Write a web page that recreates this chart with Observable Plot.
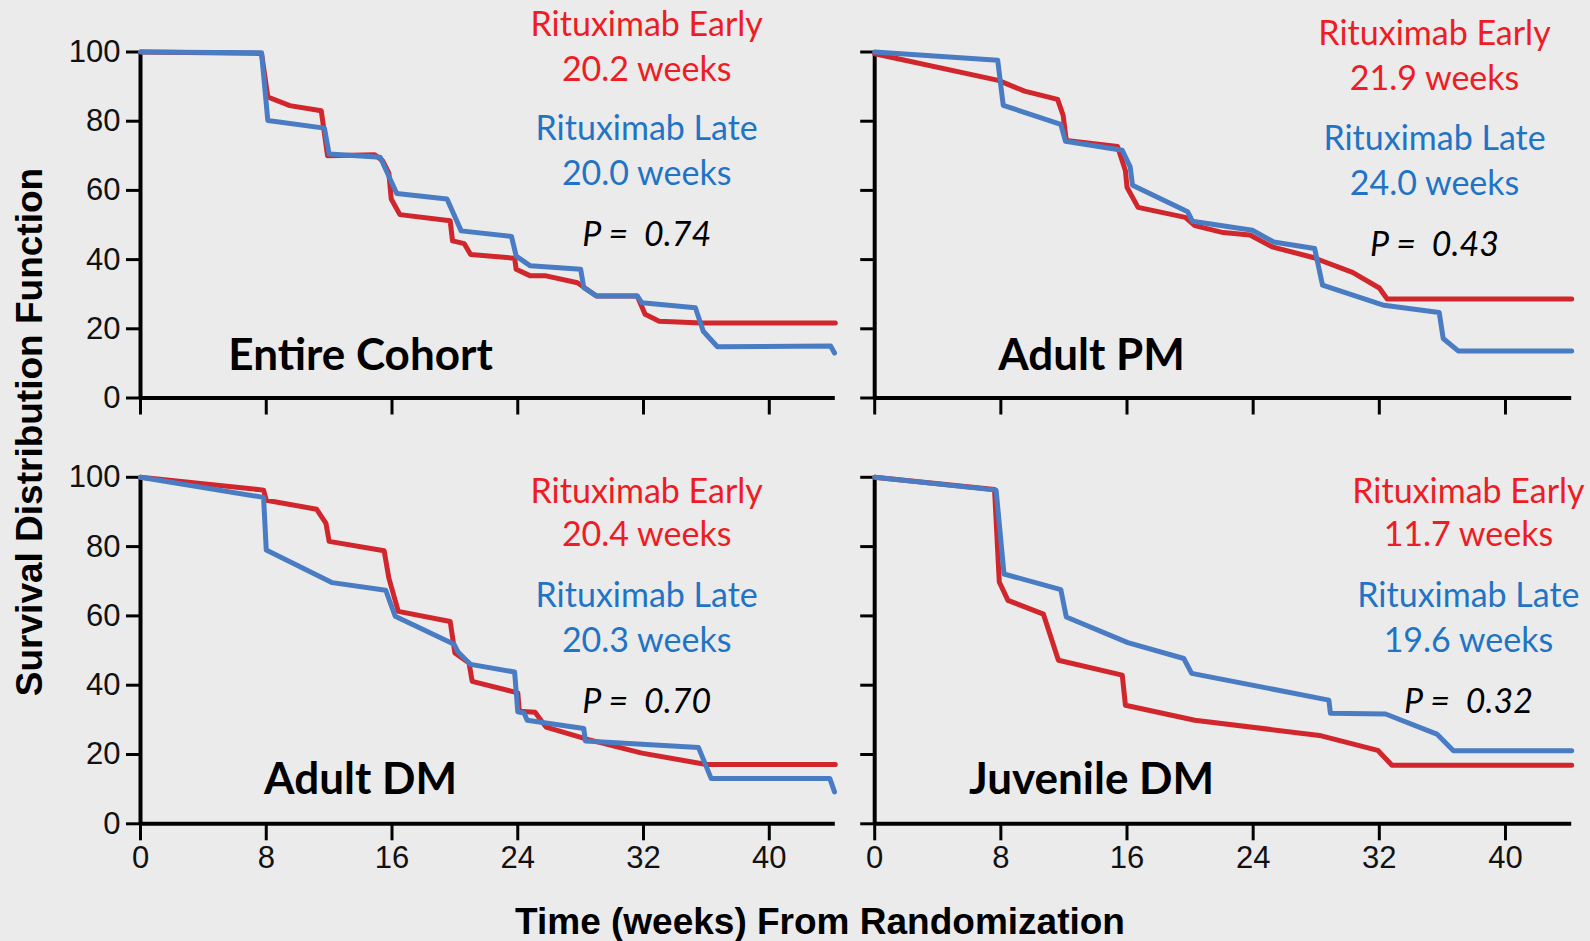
<!DOCTYPE html>
<html><head><meta charset="utf-8">
<script src="https://cdn.jsdelivr.net/npm/d3@7"></script>
<script src="https://cdn.jsdelivr.net/npm/@observablehq/plot@0.6"></script>
<style>
html,body{margin:0;padding:0;background:#ebebeb;}
#root{position:relative;width:1590px;height:941px;overflow:hidden;background:#ebebeb;}
.panel{position:absolute;}
.ytitle{position:absolute;left:29px;top:432px;transform:translate(-50%,-50%) rotate(-90deg);font:bold 37px "Liberation Sans",Arial,sans-serif;white-space:nowrap;color:#000;line-height:1;}
.xtitle{position:absolute;left:820px;top:921px;transform:translate(-50%,-50%);font:bold 37px "Liberation Sans",Arial,sans-serif;white-space:nowrap;color:#000;line-height:1;}
</style></head>
<body><div id="root">
<div class="ytitle">Survival Distribution Function</div>
<div class="xtitle">Time (weeks) From Randomization</div>
</div>
<script>
// ---------- data ----------
const panelNames = ["Entire Cohort", "Adult PM", "Adult DM", "Juvenile DM"];
const medianEarly = ["20.2", "21.9", "20.4", "11.7"];
const medianLate = ["20.0", "24.0", "20.3", "19.6"];
const pValues = ["0.74", "0.43", "0.70", "0.32"];
const xTicks = [0, 8, 16, 24, 32, 40];
const yTicks = [0, 20, 40, 60, 80, 100];

// Entire Cohort
const cohortEarlyT = [0, 7.7, 8.1, 9.5, 11.5, 11.9, 14.9, 15.4, 15.8, 15.95, 16.5, 19.7, 19.85, 20.6, 21.0, 23.8, 23.9, 24.8, 25.8, 27.8, 29.0, 31.6, 32.1, 33.0, 35.7, 44.2];
const cohortEarlyS = [100, 99.6, 87, 84.5, 83, 70, 70.3, 68.6, 65, 57.5, 53, 51.2, 45.4, 44.6, 41.5, 40.4, 37.2, 35.3, 35.3, 33.3, 29.5, 29.5, 24.2, 22.2, 21.7, 21.7];
const cohortLateT = [0, 7.7, 8.1, 11.7, 12.0, 15.25, 16.3, 19.5, 20.4, 23.6, 23.9, 24.8, 28.0, 28.2, 29.0, 31.6, 31.9, 35.3, 35.8, 36.7, 43.9, 44.15];
const cohortLateS = [100, 99.8, 80.2, 78, 70.5, 69.6, 59.1, 57.5, 48.3, 46.7, 41, 38.2, 37.2, 31.9, 29.5, 29.5, 27.5, 26.1, 19.3, 14.8, 15, 13];

// Adult PM
const pmEarlyT = [0, 7.84, 9.5, 11.6, 11.95, 12.15, 15.4, 15.9, 16.0, 16.7, 19.7, 20.3, 22.1, 23.8, 25.2, 27.8, 30.3, 32.0, 32.5, 44.2];
const pmEarlyS = [99.5, 91.8, 88.7, 86.3, 81.7, 74.4, 72.7, 65.7, 60.9, 55.1, 52.2, 49.8, 47.8, 47.1, 43.7, 40.6, 36.3, 31.8, 28.6, 28.6];
const pmLateT = [0, 7.8, 8.15, 11.8, 12.1, 15.7, 16.2, 16.35, 19.85, 20.15, 23.95, 25.3, 27.9, 28.4, 32.3, 35.8, 36.05, 37.0, 44.2];
const pmLateS = [100, 97.6, 84.6, 79.1, 74.2, 71.6, 66.8, 61.5, 53.8, 51.1, 48.5, 45.1, 43.2, 32.6, 26.8, 24.7, 17.2, 13.6, 13.6];

// Adult DM
const dmEarlyT = [0, 7.83, 8.0, 11.2, 11.8, 12.0, 15.5, 15.8, 16.4, 19.7, 20.0, 20.9, 21.1, 24.0, 24.1, 25.1, 25.8, 28.5, 31.9, 36.0, 44.2];
const dmEarlyS = [100, 96.3, 93.4, 90.8, 86.7, 81.5, 78.8, 70.9, 61.3, 58.4, 49.3, 46.4, 41.1, 37.8, 32.5, 32.2, 27.9, 24.3, 20.4, 17.1, 17.1];
const dmLateT = [0, 7.83, 8.0, 12.2, 15.6, 16.2, 19.95, 20.2, 21.0, 23.8, 24.0, 24.4, 24.6, 28.2, 28.3, 35.5, 36.3, 43.85, 44.15];
const dmLateS = [100, 94.2, 79, 69.6, 67.4, 59.9, 51.8, 49.6, 46, 43.8, 32.3, 32, 29.9, 27.5, 23.9, 22, 13.1, 13.1, 9.2];

// Juvenile DM
const jdmEarlyT = [0, 7.6, 7.9, 8.45, 10.7, 11.65, 15.7, 15.9, 20.3, 28.2, 31.9, 32.8, 44.2];
const jdmEarlyS = [100, 96.5, 69.8, 64.5, 60.5, 47.2, 42.9, 34.2, 29.9, 25.5, 21.2, 16.9, 16.9];
const jdmLateT = [0, 7.7, 8.2, 11.8, 12.15, 16.05, 19.6, 20.1, 28.8, 28.9, 32.4, 35.65, 36.7, 44.2];
const jdmLateS = [100, 96.3, 72.1, 67.6, 59.7, 52.3, 47.7, 43.4, 35.7, 31.9, 31.7, 25.9, 21.1, 21.1];

// ---------- layout ----------
const RED_LINE = "#d0262c", BLUE_LINE = "#4a7cc4";
const RED_TEXT = "#ee1c24", BLUE_TEXT = "#1f74c6";
const xMax = 44.2;
const panels = [
  {name: panelNames[0], early: [cohortEarlyT, cohortEarlyS], late: [cohortLateT, cohortLateS], med: [medianEarly[0], medianLate[0]], p: pValues[0],
   left: 0, top: 0, width: 850, height: 430, mL: 140, mR: 15.2, mT: 51.5, mB: 32.5, xLab: false, yLab: true,
   ax: 32.2, ay: [107.9, 94.9, 77.7, 64.8, 47.2], lx: 14.0, ly: 12.3},
  {name: panelNames[1], early: [pmEarlyT, pmEarlyS], late: [pmLateT, pmLateS], med: [medianEarly[1], medianLate[1]], p: pValues[1],
   left: 850, top: 0, width: 740, height: 430, mL: 24.2, mR: 18.8, mT: 51.5, mB: 32.5, xLab: false, yLab: false,
   ax: 35.5, ay: [105.2, 92.3, 74.7, 61.8, 44.3], lx: 13.75, ly: 12.3},
  {name: panelNames[2], early: [dmEarlyT, dmEarlyS], late: [dmLateT, dmLateS], med: [medianEarly[2], medianLate[2]], p: pValues[2],
   left: 0, top: 430, width: 850, height: 460, mL: 140, mR: 15.2, mT: 46.8, mB: 66.7, xLab: true, yLab: true,
   ax: 32.2, ay: [95.8, 83.2, 65.6, 52.6, 35.0], lx: 14.0, ly: 12.8},
  {name: panelNames[3], early: [jdmEarlyT, jdmEarlyS], late: [jdmLateT, jdmLateS], med: [medianEarly[3], medianLate[3]], p: pValues[3],
   left: 850, top: 430, width: 740, height: 460, mL: 24.2, mR: 18.8, mT: 46.8, mB: 66.7, xLab: true, yLab: false,
   ax: 37.65, ay: [95.8, 83.2, 65.6, 52.6, 35.0], lx: 13.75, ly: 12.8}
];

const root = document.getElementById("root");
const annoFont = "Lato, 'Open Sans', sans-serif";

for (const p of panels) {
  const early = p.early[0].map((t, i) => ({t, s: p.early[1][i]}));
  const late = p.late[0].map((t, i) => ({t, s: p.late[1][i]}));
  const anno = [
    {text: "Rituximab Early", color: RED_TEXT, style: "normal"},
    {text: p.med[0] + " weeks", color: RED_TEXT, style: "normal"},
    {text: "Rituximab Late", color: BLUE_TEXT, style: "normal"},
    {text: p.med[1] + " weeks", color: BLUE_TEXT, style: "normal"},
    {text: "P =  " + p.p, color: "#000", style: "italic"}
  ].map((d, i) => ({...d, x: p.ax, y: p.ay[i]}));

  const chart = Plot.plot({
    width: p.width, height: p.height,
    marginLeft: p.mL, marginRight: p.mR, marginTop: p.mT, marginBottom: p.mB,
    style: {background: "transparent", fontFamily: "'Liberation Sans', Arial, sans-serif", fontSize: "31px", color: "#111"},
    x: {domain: [0, xMax], label: null},
    y: {domain: [0, 100], label: null},
    marks: [
      Plot.axisX({ticks: xTicks, tickSize: 17, tickPadding: 5, strokeWidth: 3, stroke: "#000", label: null,
                  tickFormat: p.xLab ? (d => String(d)) : (() => "")}),
      Plot.axisY({ticks: yTicks, tickSize: 14, tickPadding: 6, strokeWidth: 3, stroke: "#000", label: null,
                  tickFormat: p.yLab ? (d => String(d)) : (() => "")}),
      Plot.ruleX([0], {y1: 0, y2: 100, stroke: "#000", strokeWidth: 4}),
      Plot.ruleY([0], {x1: 0, x2: xMax, stroke: "#000", strokeWidth: 4}),
      Plot.line(early, {x: "t", y: "s", stroke: RED_LINE, strokeWidth: 5, strokeLinejoin: "round", strokeLinecap: "round"}),
      Plot.line(late, {x: "t", y: "s", stroke: BLUE_LINE, strokeWidth: 5, strokeLinejoin: "round", strokeLinecap: "round"}),
      Plot.text(anno.filter(d => d.style === "normal"), {x: "x", y: "y", text: "text", fill: "color", fontSize: 34, fontFamily: annoFont}),
      Plot.text(anno.filter(d => d.style === "italic"), {x: "x", y: "y", text: "text", fill: "color", fontSize: 34, fontFamily: annoFont, fontStyle: "italic"}),
      Plot.text([{x: p.lx, y: p.ly, text: p.name}], {x: "x", y: "y", text: "text", fill: "#000", fontSize: 44, fontWeight: "bold", fontFamily: annoFont})
    ]
  });
  chart.classList.add("panel");
  chart.style.left = p.left + "px";
  chart.style.top = p.top + "px";
  root.appendChild(chart);
}
</script>
</body></html>
